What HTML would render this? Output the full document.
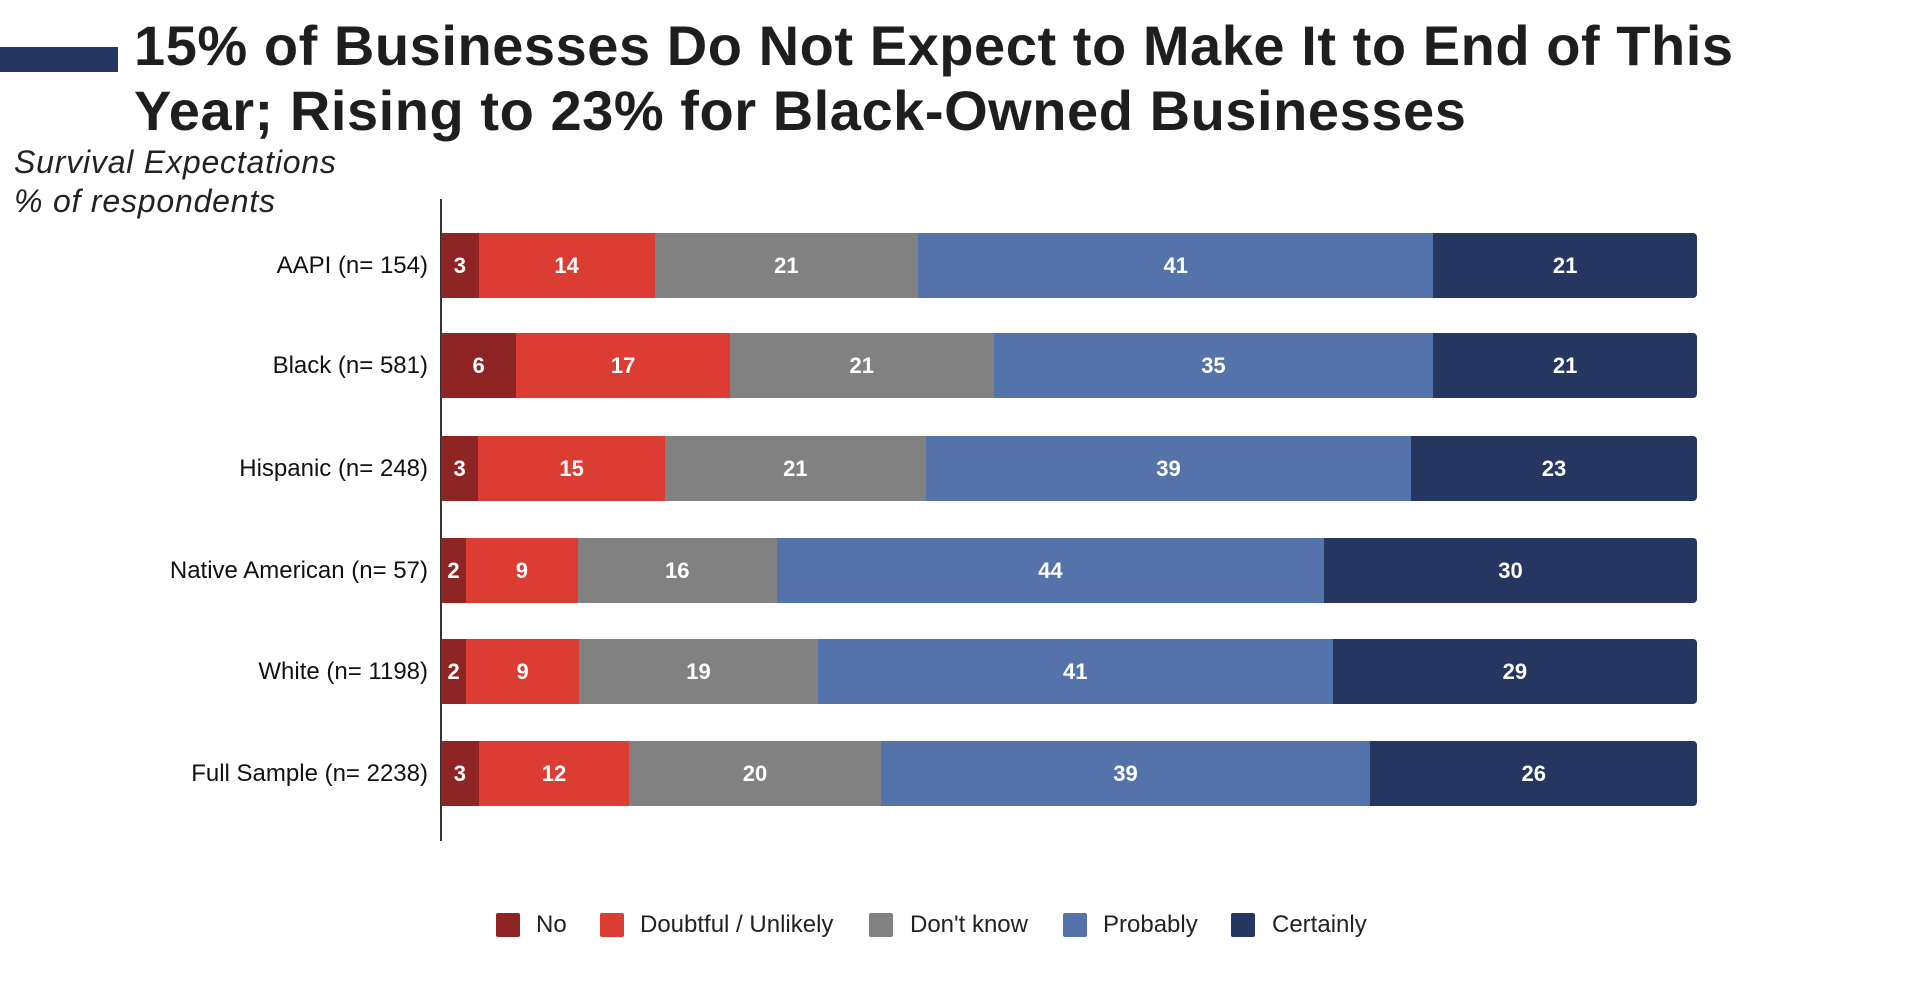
<!DOCTYPE html>
<html><head><meta charset="utf-8"><style>
body{margin:0;width:1920px;height:983px;background:#fff;position:relative;overflow:hidden;font-family:"Liberation Sans",Arial,sans-serif}
.t{position:absolute;left:134px;font-weight:bold;font-size:56px;color:#1e1e1e;white-space:nowrap;letter-spacing:0.55px}
.sub{position:absolute;left:14px;font-style:italic;font-size:32px;color:#222;white-space:nowrap;letter-spacing:0.8px}
.lab{position:absolute;right:1492px;font-size:24px;color:#111;white-space:nowrap;line-height:65px;height:65px}
.row{position:absolute;left:441px;width:1256px;height:65px;display:flex;border-radius:0 4px 4px 0;overflow:hidden}
.row div{height:65px;line-height:65px;text-align:center;color:#fff;font-weight:bold;font-size:22px}
.c1{background:#8e2424}.c2{background:#dc3d32}.c3{background:#818181}.c4{background:#5573ab}.c5{background:#253760}
.lg{position:absolute;top:913px;width:24px;height:24px;border-radius:2px}
.lt{position:absolute;top:910px;font-size:24px;color:#222;line-height:30px}
</style></head><body>
<div style="position:absolute;left:0;top:47px;width:118px;height:25px;background:#253760"></div>
<div class="t" style="top:13px">15% of Businesses Do Not Expect to Make It to End of This</div>
<div class="t" style="top:78px">Year; Rising to 23% for Black-Owned Businesses</div>
<div class="sub" style="top:144px">Survival Expectations</div>
<div class="sub" style="top:183px">% of respondents</div>
<div style="position:absolute;left:440px;top:199px;width:2px;height:642px;background:#333"></div>

<div class="lab" style="top:233px">AAPI (n= 154)</div>
<div class="row" style="top:233px"><div class="c1" style="flex:3">3</div><div class="c2" style="flex:14">14</div><div class="c3" style="flex:21">21</div><div class="c4" style="flex:41">41</div><div class="c5" style="flex:21">21</div></div>

<div class="lab" style="top:333px">Black (n= 581)</div>
<div class="row" style="top:333px"><div class="c1" style="flex:6">6</div><div class="c2" style="flex:17">17</div><div class="c3" style="flex:21">21</div><div class="c4" style="flex:35">35</div><div class="c5" style="flex:21">21</div></div>

<div class="lab" style="top:436px">Hispanic (n= 248)</div>
<div class="row" style="top:436px"><div class="c1" style="flex:3">3</div><div class="c2" style="flex:15">15</div><div class="c3" style="flex:21">21</div><div class="c4" style="flex:39">39</div><div class="c5" style="flex:23">23</div></div>

<div class="lab" style="top:538px">Native American (n= 57)</div>
<div class="row" style="top:538px"><div class="c1" style="flex:2">2</div><div class="c2" style="flex:9">9</div><div class="c3" style="flex:16">16</div><div class="c4" style="flex:44">44</div><div class="c5" style="flex:30">30</div></div>

<div class="lab" style="top:639px">White (n= 1198)</div>
<div class="row" style="top:639px"><div class="c1" style="flex:2">2</div><div class="c2" style="flex:9">9</div><div class="c3" style="flex:19">19</div><div class="c4" style="flex:41">41</div><div class="c5" style="flex:29">29</div></div>

<div class="lab" style="top:741px">Full Sample (n= 2238)</div>
<div class="row" style="top:741px"><div class="c1" style="flex:3">3</div><div class="c2" style="flex:12">12</div><div class="c3" style="flex:20">20</div><div class="c4" style="flex:39">39</div><div class="c5" style="flex:26">26</div></div>

<div class="lg c1" style="left:496px"></div><div class="lt" style="left:536px">No</div>
<div class="lg c2" style="left:600px"></div><div class="lt" style="left:640px">Doubtful / Unlikely</div>
<div class="lg c3" style="left:869px"></div><div class="lt" style="left:910px">Don't know</div>
<div class="lg c4" style="left:1063px"></div><div class="lt" style="left:1103px">Probably</div>
<div class="lg c5" style="left:1231px"></div><div class="lt" style="left:1272px">Certainly</div>
</body></html>
